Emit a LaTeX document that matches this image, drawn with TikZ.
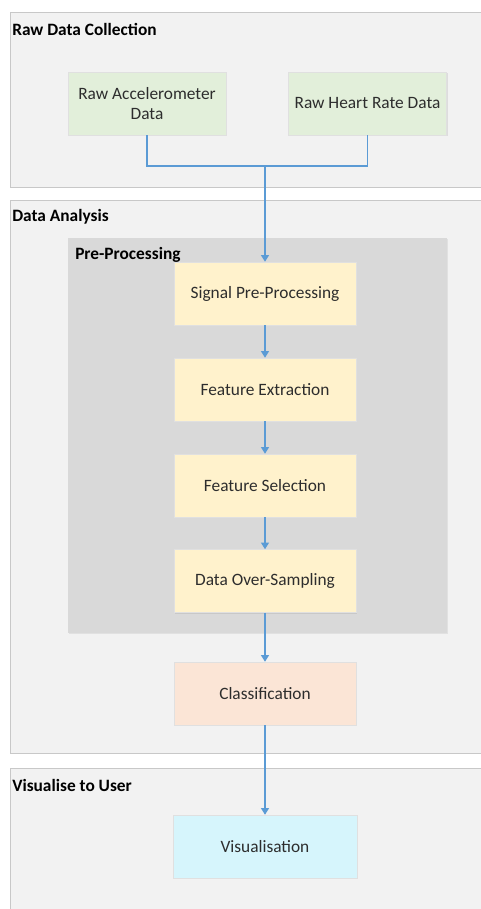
\documentclass[tikz,border=0pt]{standalone}
\usepackage{fontspec}
\setmainfont{Carlito}
\usepackage{tikz}
\usetikzlibrary{arrows.meta}
\usetikzlibrary{shadows}

\definecolor{secfill}{RGB}{242,242,242}
\definecolor{secline}{RGB}{200,200,200}
\definecolor{prefill}{RGB}{217,217,217}
\definecolor{rawfill}{RGB}{226,239,218}
\definecolor{procfill}{RGB}{255,242,204}
\definecolor{clsfill}{RGB}{251,229,214}
\definecolor{visfill}{RGB}{214,245,252}
\definecolor{linkblue}{RGB}{91,155,213}
\definecolor{txt}{RGB}{45,45,45}

\tikzset{
  box/.style={draw=black!12, text=txt, align=center, font=\fontsize{13}{15.5}\selectfont,
    minimum height=47.25pt, inner sep=2pt,
    drop shadow={shadow xshift=0.8pt, shadow yshift=-0.8pt, opacity=0.18}},
  rawbox/.style={box, fill=rawfill, minimum width=118.5pt},
  procbox/.style={box, fill=procfill, minimum width=136.5pt},
  title/.style={anchor=west, inner sep=0pt, font=\fontsize{13}{15.5}\selectfont\bfseries, text=black},
  link/.style={draw=linkblue, line width=0.9pt},
  arr/.style={link, -{Triangle[length=5pt,width=6pt]}}
}

\begin{document}
\begin{tikzpicture}[x=0.75pt,y=0.75pt,yscale=-1,xscale=1]
\path[use as bounding box, fill=white] (0,0) rectangle (480,909);

%Shape: Rectangle [Raw Data Collection]
\draw [draw=secline, fill=secfill] (10,12) rectangle (492,187) ;
%Shape: Rectangle [Data Analysis]
\draw [draw=secline, fill=secfill] (10,200) rectangle (492,753) ;
%Shape: Rectangle [Pre-Processing]
\draw [draw=none, fill=prefill, drop shadow={shadow xshift=0.8pt, shadow yshift=-0.8pt, opacity=0.15}] (68,238) rectangle (447,633) ;
%Shape: Rectangle [Visualise to User]
\draw [draw=secline, fill=secfill] (10,768) rectangle (492,920) ;

% Titles
\node [title] (tcollect) at (12,29) {Raw Data Collection};
\node [title] (tanalysis) at (12,217) {Data Analysis};
\node [title] (tpre) at (75,255) {Pre-Processing};
\node [title] (tvisual) at (12,785) {Visualise to User};

% Boxes
\node [rawbox] (acc) at (147,103.5) {Raw Accelerometer\\Data};
\node [rawbox] (hr) at (367.5,103.5) {Raw Heart Rate Data};
\node [procbox] (sig) at (265,293.5) {Signal Pre-Processing};
\node [procbox] (feat) at (265,389.5) {Feature Extraction};
\node [procbox] (sel) at (265,485.5) {Feature Selection};
\node [procbox] (over) at (265,581) {Data Over-Sampling};
\node [box, fill=clsfill, minimum width=136.5pt] (cls) at (265,693.5) {Classification};
\node [box, fill=visfill, minimum width=138pt] (vis) at (265,846.5) {Visualisation};

% Connectors
\coordinate (join) at (265,166);
\draw [link] (acc.south) |- (join) -| (hr.south) ;
\draw [arr] (join) -- (sig.north) ;
\draw [arr] (sig) -- (feat) ;
\draw [arr] (feat) -- (sel) ;
\draw [arr] (sel) -- (over) ;
\draw [arr] (over) -- (cls) ;
\draw [arr] (cls) -- (vis) ;

\end{tikzpicture}
\end{document}
